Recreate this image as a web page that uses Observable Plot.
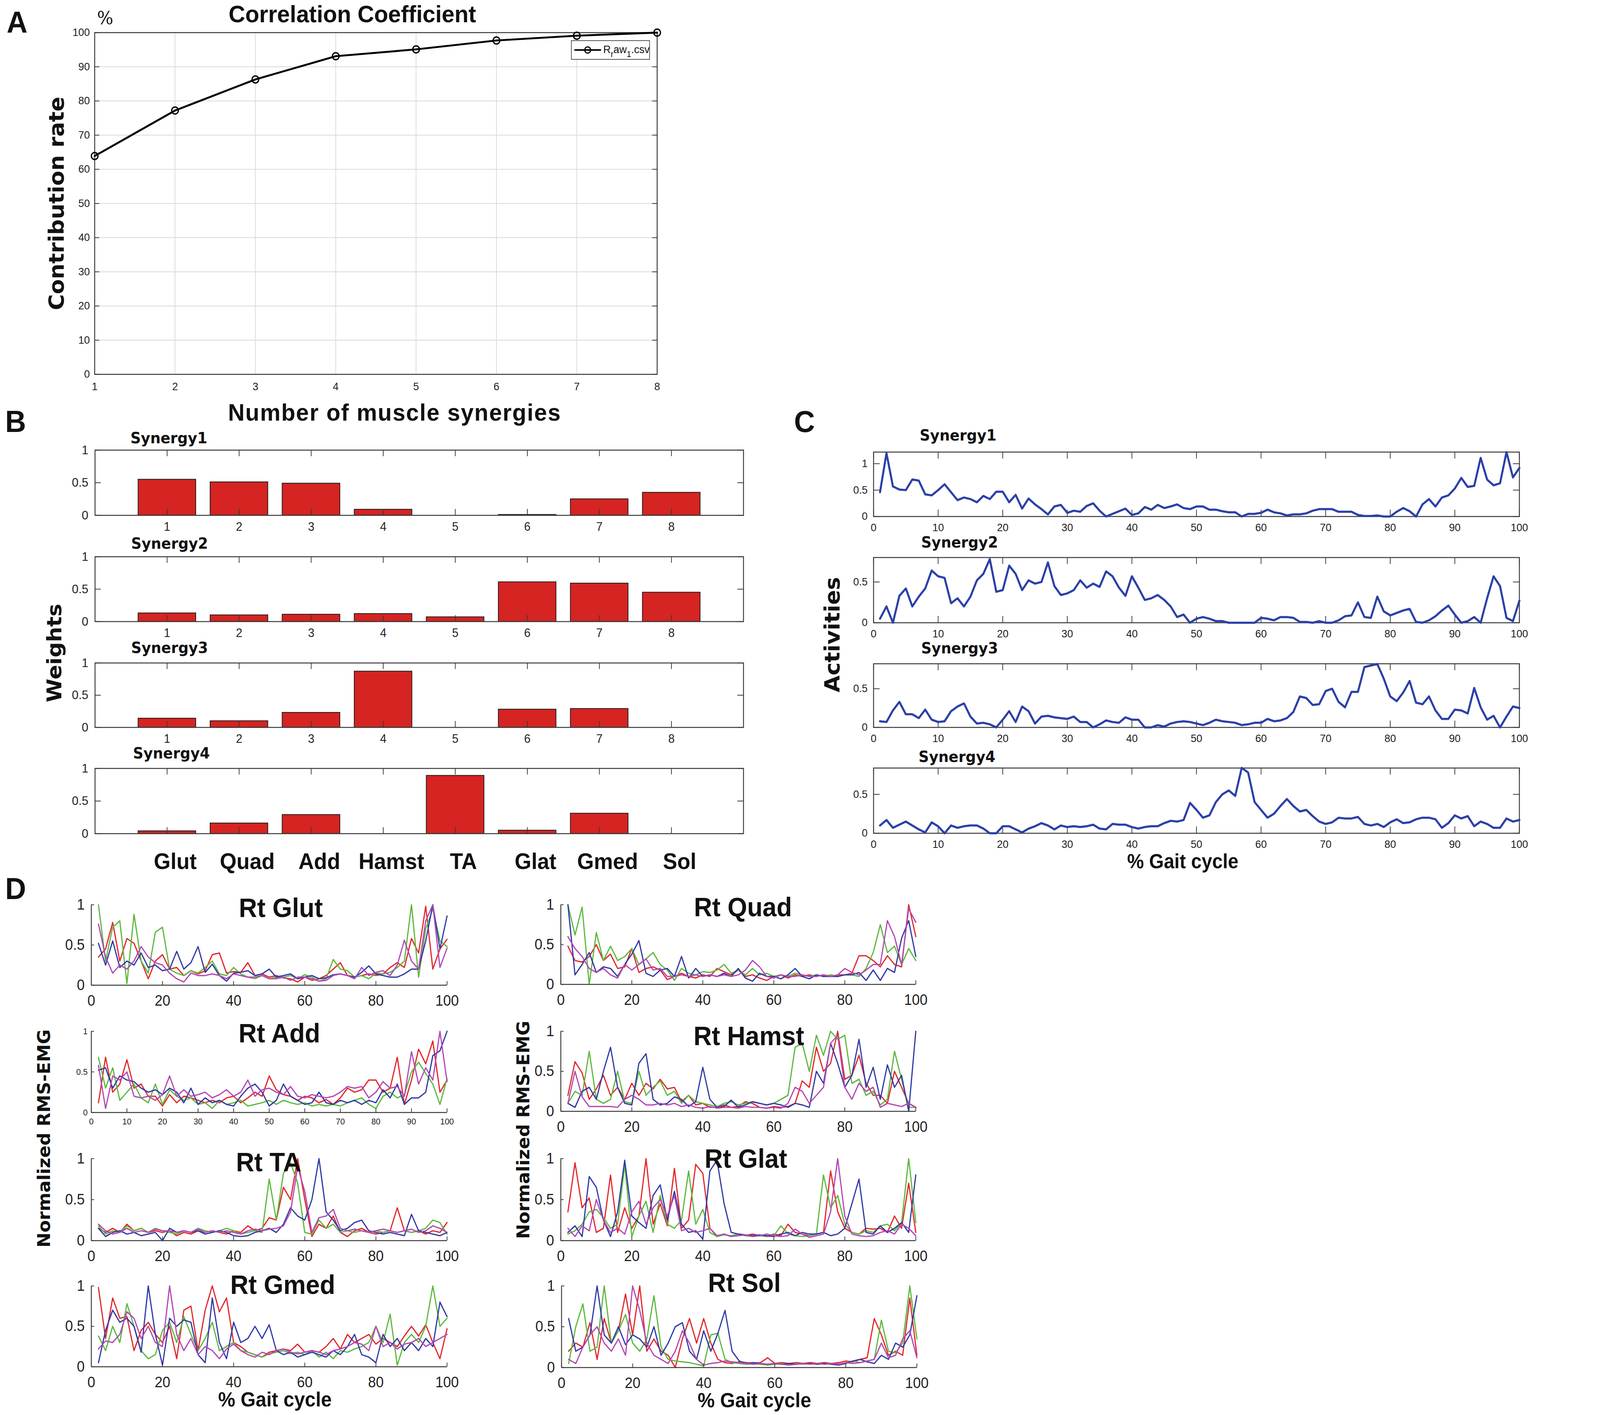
<!DOCTYPE html>
<html><head><meta charset="utf-8">
<script src="https://cdn.jsdelivr.net/npm/d3@7"></script>
<script src="https://cdn.jsdelivr.net/npm/@observablehq/plot@0.6"></script>
<style>
html,body{margin:0;padding:0;background:#fff;overflow:hidden;}
#root{position:relative;width:4318px;height:3623px;overflow:hidden;background:#fff;}
</style></head><body><div id="root"></div>
<script>
// ================= DATA =================
// Panel A
const synergyCounts = [1, 2, 3, 4, 5, 6, 7, 8];
const contributionRate = [63.9, 77.2, 86.3, 93.1, 95.1, 97.7, 99.1, 100];
const rateTicks = [0, 10, 20, 30, 40, 50, 60, 70, 80, 90, 100];

// Panel B
const muscleIndex = [1, 2, 3, 4, 5, 6, 7, 8];
const muscles = ["Glut", "Quad", "Add", "Hamst", "TA", "Glat", "Gmed", "Sol"];
const weightsSyn1 = [0.55, 0.51, 0.49, 0.09, 0, 0.01, 0.25, 0.35];
const weightsSyn2 = [0.13, 0.10, 0.11, 0.12, 0.07, 0.61, 0.59, 0.45];
const weightsSyn3 = [0.14, 0.10, 0.23, 0.87, 0, 0.28, 0.29, 0];
const weightsSyn4 = [0.04, 0.16, 0.29, 0, 0.89, 0.05, 0.31, 0];
const weightTicks = [0, 0.5, 1];

// Panel C (samples at 1..100 % gait cycle)
const gaitTicks = [0, 10, 20, 30, 40, 50, 60, 70, 80, 90, 100];
const activitySyn1 = [0.46,1.20,0.57,0.51,0.50,0.70,0.68,0.42,0.40,0.50,
 0.61,0.46,0.31,0.36,0.33,0.27,0.39,0.33,0.47,0.47,
 0.27,0.41,0.15,0.34,0.23,0.14,0.04,0.19,0.22,0.07,
 0.11,0.09,0.20,0.25,0.11,0.00,0.05,0.10,0.15,0.03,
 0.06,0.18,0.13,0.22,0.16,0.19,0.23,0.16,0.14,0.19,
 0.19,0.13,0.13,0.10,0.08,0.08,0.00,0.05,0.05,0.07,
 0.13,0.08,0.06,0.02,0.04,0.04,0.06,0.11,0.14,0.14,
 0.14,0.09,0.09,0.09,0.03,0.01,0.01,0.02,0.00,0.00,
 0.09,0.16,0.10,0.00,0.23,0.33,0.19,0.36,0.40,0.53,
 0.73,0.56,0.58,1.11,0.70,0.59,0.63,1.22,0.74,0.92];
const activitySyn2 = [0.05,0.20,0.00,0.33,0.42,0.20,0.32,0.42,0.64,0.57,
 0.55,0.24,0.30,0.20,0.32,0.52,0.60,0.78,0.38,0.40,
 0.70,0.60,0.40,0.52,0.48,0.50,0.74,0.45,0.34,0.36,
 0.40,0.52,0.43,0.48,0.44,0.63,0.57,0.43,0.33,0.57,
 0.43,0.28,0.30,0.34,0.28,0.20,0.07,0.10,0.00,0.05,
 0.07,0.05,0.02,0.02,0.00,0.00,0.00,0.00,0.00,0.06,
 0.05,0.03,0.07,0.07,0.06,0.01,0.01,0.00,0.02,0.00,
 0.00,0.03,0.08,0.09,0.25,0.07,0.06,0.32,0.14,0.09,
 0.12,0.15,0.17,0.01,0.00,0.03,0.08,0.15,0.21,0.10,
 0.00,0.02,0.07,0.00,0.30,0.57,0.45,0.06,0.02,0.27];
const activitySyn3 = [0.08,0.07,0.22,0.33,0.17,0.17,0.12,0.23,0.10,0.07,
 0.08,0.21,0.27,0.31,0.14,0.05,0.06,0.04,0.00,0.10,
 0.21,0.07,0.27,0.21,0.05,0.14,0.15,0.13,0.12,0.11,
 0.14,0.07,0.07,0.00,0.04,0.09,0.07,0.06,0.13,0.10,
 0.10,0.00,0.00,0.03,0.01,0.05,0.07,0.08,0.07,0.05,
 0.03,0.06,0.10,0.08,0.07,0.06,0.03,0.04,0.06,0.06,
 0.11,0.08,0.09,0.12,0.20,0.40,0.38,0.29,0.30,0.47,
 0.50,0.33,0.26,0.46,0.46,0.78,0.80,0.82,0.63,0.40,
 0.34,0.45,0.60,0.32,0.30,0.40,0.22,0.11,0.11,0.23,
 0.22,0.18,0.51,0.26,0.10,0.15,0.00,0.14,0.27,0.25];
const activitySyn4 = [0.10,0.17,0.07,0.11,0.15,0.10,0.05,0.01,0.14,0.09,
 0.00,0.10,0.07,0.09,0.10,0.10,0.06,0.00,0.00,0.09,
 0.09,0.05,0.01,0.06,0.09,0.13,0.10,0.05,0.10,0.08,
 0.09,0.08,0.09,0.11,0.06,0.05,0.12,0.11,0.11,0.08,
 0.06,0.08,0.09,0.09,0.13,0.16,0.15,0.17,0.39,0.30,
 0.20,0.23,0.40,0.50,0.55,0.48,0.84,0.78,0.40,0.30,
 0.20,0.25,0.35,0.44,0.35,0.28,0.30,0.22,0.15,0.12,
 0.14,0.20,0.19,0.19,0.21,0.12,0.10,0.12,0.08,0.14,
 0.18,0.13,0.14,0.18,0.20,0.20,0.18,0.07,0.13,0.23,
 0.19,0.22,0.09,0.15,0.12,0.07,0.07,0.19,0.15,0.17];

// Panel D (samples every 2 % gait cycle, 4 trials each)
const emgTicks = [0, 20, 40, 60, 80, 100];
const emgTicksFine = [0, 10, 20, 30, 40, 50, 60, 70, 80, 90, 100];
const trialColors = ["#e3262b", "#5cb83c", "#2f3aa6", "#b347b4"];
const glut1 = [.35,.45,.78,.30,.58,.52,.30,.08,.30,.38,.20,.22,.12,.18,.14,.18,.38,.40,.15,.17,.16,.28,.12,.14,.10,.12,.09,.08,.04,.10,.06,.08,.12,.20,.28,.12,.10,.12,.14,.12,.14,.22,.28,.22,.58,.40,.98,.20,.45,.57];
const glut2 = [1.0,.30,.72,.80,.02,.88,.30,.15,.66,.72,.20,.15,.12,.18,.15,.22,.30,.14,.12,.22,.14,.10,.08,.12,.08,.10,.10,.12,.08,.13,.10,.05,.08,.32,.20,.18,.10,.12,.08,.15,.14,.16,.22,.30,1.0,.10,.70,.95,.55,.48];
const glut3 = [.52,.25,.55,.22,.30,.25,.40,.22,.25,.18,.20,.42,.20,.28,.48,.16,.26,.12,.05,.15,.16,.18,.12,.14,.20,.10,.12,.14,.08,.10,.12,.08,.09,.13,.14,.12,.10,.16,.24,.14,.12,.10,.10,.14,.20,.20,.55,1.0,.45,.86];
const glut4 = [.76,.35,.15,.25,.20,.30,.48,.35,.28,.25,.15,.08,.04,.15,.12,.12,.14,.12,.08,.14,.12,.10,.10,.12,.08,.08,.10,.06,.10,.10,.08,.05,.06,.12,.14,.12,.08,.22,.12,.16,.18,.12,.25,.56,.30,.20,.80,1.0,.22,.46];
const quad1 = [.48,.30,.28,.35,.50,.30,.38,.20,.22,.45,.15,.20,.22,.18,.06,.10,.14,.10,.08,.12,.10,.20,.16,.12,.18,.10,.12,.08,.05,.10,.12,.08,.12,.10,.12,.10,.12,.10,.12,.12,.14,.36,.36,.30,.22,.36,.25,.22,1.0,.60];
const quad2 = [1.0,.62,.97,.00,.65,.30,.48,.30,.35,.45,.25,.32,.40,.25,.18,.05,.20,.14,.12,.16,.15,.18,.25,.14,.18,.12,.20,.12,.14,.10,.12,.10,.14,.12,.10,.12,.10,.12,.10,.12,.12,.10,.20,.40,.75,.40,.48,.25,.45,.30];
const quad3 = [1.0,.12,.25,.40,.15,.22,.20,.10,.25,.38,.55,.14,.10,.18,.20,.10,.35,.08,.20,.10,.12,.10,.14,.10,.20,.08,.04,.14,.10,.10,.07,.12,.20,.10,.07,.12,.10,.10,.10,.12,.12,.15,.05,.18,.05,.20,.15,.58,.80,.35];
const quad4 = [.60,.45,.35,.20,.15,.20,.12,.08,.25,.18,.25,.32,.18,.20,.10,.10,.12,.10,.12,.10,.12,.10,.12,.10,.12,.18,.30,.22,.10,.08,.12,.10,.10,.12,.10,.10,.12,.10,.12,.20,.15,.12,.18,.25,.25,.80,.60,.25,.95,.78];
const add1 = [.12,.68,.25,.35,.65,.30,.35,.20,.20,.08,.22,.12,.20,.18,.15,.12,.15,.12,.18,.20,.12,.18,.25,.20,.45,.28,.22,.20,.15,.20,.18,.12,.16,.10,.18,.30,.25,.28,.40,.40,.25,.30,.68,.10,.40,.78,.60,.88,.25,.40];
const add2 = [.68,.30,.55,.15,.25,.35,.18,.12,.35,.10,.28,.20,.15,.18,.10,.12,.05,.15,.10,.12,.15,.08,.10,.12,.15,.10,.15,.12,.10,.12,.08,.10,.08,.10,.08,.12,.15,.18,.10,.05,.20,.25,.18,.22,.50,.62,.48,.35,.10,.42];
const add3 = [.52,.55,.30,.45,.40,.38,.30,.25,.28,.22,.30,.25,.12,.30,.10,.18,.12,.15,.10,.08,.20,.30,.35,.25,.08,.15,.35,.20,.15,.10,.12,.25,.12,.10,.15,.12,.15,.10,.15,.12,.28,.18,.35,.10,.18,.18,.25,.70,.76,1.0];
const add4 = [.58,.05,.45,.40,.50,.20,.18,.20,.15,.22,.45,.20,.28,.20,.22,.25,.18,.22,.28,.20,.25,.40,.20,.28,.30,.25,.22,.32,.20,.18,.22,.20,.18,.20,.25,.32,.30,.32,.18,.25,.38,.30,.32,.20,.75,.35,.55,.40,1.0,.38];
const hamst1 = [.20,.62,.48,.15,.28,.45,.20,.30,.15,.35,.20,.35,.28,.40,.28,.30,.12,.20,.08,.10,.05,.05,.08,.05,.06,.12,.10,.05,.04,.06,.05,.06,.10,.38,.30,.80,.50,.60,1.0,.40,.45,.70,.35,.20,.20,.10,.50,.30,.10,.05];
const hamst2 = [.10,.25,.20,.75,.15,.10,.15,.50,.12,.10,.50,.20,.30,.38,.20,.25,.10,.20,.12,.10,.08,.06,.10,.12,.08,.10,.12,.10,.08,.10,.15,.20,.80,.85,.50,.95,.70,1.0,.90,.95,.35,.40,.20,.25,.08,.15,.75,.40,.05,.05];
const hamst3 = [.10,.05,.25,.30,.15,.50,.80,.30,.10,.08,.60,.72,.15,.08,.10,.18,.15,.06,.12,.55,.15,.05,.06,.14,.05,.08,.12,.10,.08,.10,.08,.05,.10,.08,.05,.50,.35,.85,.60,.30,.45,.90,.30,.55,.15,.58,.30,.45,.00,1.0];
const hamst4 = [.10,.50,.18,.06,.06,.06,.06,.05,.15,.20,.15,.08,.08,.10,.08,.10,.06,.08,.05,.04,.06,.04,.05,.05,.04,.06,.05,.05,.04,.05,.04,.10,.30,.25,.10,.20,.30,.85,.95,.30,.15,.35,.25,.30,.05,.10,.08,.06,.10,.05];
const ta1 = [.15,.10,.15,.10,.20,.12,.15,.10,.12,.10,.12,.06,.10,.08,.12,.10,.12,.10,.08,.12,.10,.18,.12,.15,.28,.25,.65,.50,1.0,.50,.05,.20,.15,.30,.10,.05,.12,.15,.10,.08,.10,.12,.40,.12,.10,.12,.08,.12,.10,.22];
const ta2 = [.18,.08,.12,.10,.18,.12,.15,.10,.15,.12,.10,.08,.12,.10,.15,.12,.10,.12,.15,.12,.08,.10,.12,.10,.75,.25,.82,.95,.70,.10,.08,.25,.15,.20,.10,.12,.10,.12,.10,.12,.10,.12,.10,.12,.10,.12,.15,.25,.22,.08];
const ta3 = [.15,.05,.10,.12,.08,.10,.06,.08,.10,.00,.15,.10,.12,.10,.12,.08,.10,.12,.10,.06,.05,.06,.10,.12,.15,.10,.20,.40,.30,.25,.50,1.0,.35,.25,.12,.15,.22,.25,.12,.10,.08,.10,.08,.06,.32,.12,.10,.08,.06,.10];
const ta4 = [.20,.12,.08,.10,.15,.10,.12,.10,.14,.12,.12,.10,.12,.10,.14,.10,.12,.10,.12,.10,.08,.12,.14,.12,.14,.15,.18,.35,.90,.60,.10,.28,.30,.38,.15,.12,.14,.12,.10,.12,.14,.12,.10,.12,.14,.10,.12,.18,.15,.10];
const glat1 = [.35,.95,.40,.52,.10,.15,.80,.10,.40,.15,.30,1.0,.20,.45,.18,.88,.15,.25,.93,.82,.15,.05,.08,.05,.08,.06,.08,.06,.05,.08,.06,.20,.10,.08,.06,.08,.10,.85,.35,.15,.10,.08,.15,.14,.15,.10,.30,.15,.70,.10];
const glat2 = [.08,.12,.20,.35,.38,.28,.15,.20,.92,.05,.30,.48,.10,.55,.20,.15,.25,.85,.20,.38,.10,.05,.07,.06,.08,.06,.05,.06,.05,.06,.18,.08,.06,.05,.06,.08,.80,.40,.55,.20,.10,.08,.12,.10,.18,.20,.12,.22,1.0,.22];
const glat3 = [.10,.18,.05,.78,.65,.25,.05,.35,.98,.30,.22,.15,.55,.68,.25,.60,.20,.10,.12,.02,.85,.98,.45,.10,.08,.07,.06,.07,.06,.05,.08,.10,.06,.10,.08,.08,.10,.06,.08,.15,.45,.75,.10,.08,.18,.10,.15,.22,.10,.80];
const glat4 = [.15,.05,.18,.12,.50,.25,.10,.15,.08,.35,.48,.20,.40,.50,.30,.55,.12,.15,.10,.12,.15,.06,.08,.05,.06,.07,.05,.06,.08,.06,.05,.06,.14,.08,.04,.06,.08,.35,1.0,.30,.08,.06,.05,.06,.10,.12,.08,.20,.15,.06];
const gmed1 = [.98,.35,.85,.60,.62,.20,.45,.55,.40,.30,.50,.10,.70,.75,.20,.70,1.0,.68,.85,.30,.25,.18,.15,.12,.18,.20,.22,.20,.28,.18,.20,.18,.25,.35,.22,.40,.30,.35,.40,.28,.35,.30,.25,.38,.50,.38,.52,.30,.10,.47];
const gmed2 = [.38,.20,.50,.30,.78,.50,.20,.10,.15,.45,.55,.30,.62,.40,.20,.35,.55,.20,.25,.30,.20,.18,.15,.12,.16,.18,.20,.16,.18,.15,.20,.12,.18,.10,.20,.18,.22,.25,.30,.50,.30,.65,.02,.30,.40,.30,.50,1.0,.50,.60];
const gmed3 = [.05,.45,.70,.55,.60,.50,.18,1.0,.40,.02,.60,.50,.58,.55,.15,.05,.85,.30,.10,.55,.30,.35,.50,.35,.52,.20,.15,.18,.12,.15,.18,.15,.12,.20,.15,.25,.40,.15,.12,.05,.40,.25,.35,.20,.30,.20,.35,.25,.80,.62];
const gmed4 = [.22,.32,.30,.40,.68,.60,.35,.50,.30,.25,1.0,.40,.20,.35,.15,.25,.20,.10,.22,.28,.20,.15,.12,.18,.15,.20,.22,.18,.16,.18,.20,.18,.15,.20,.22,.25,.30,.28,.20,.50,.25,.30,.22,.28,.30,.35,.25,.30,.35,.40];
const sol1 = [.20,.30,.25,.55,.10,.60,.30,.45,.90,.40,1.0,.20,.35,.20,.15,.00,.35,.60,.30,.60,.30,.10,.06,.05,.07,.06,.05,.06,.12,.05,.06,.05,.06,.05,.06,.05,.06,.05,.06,.08,.07,.10,.12,.60,.40,.15,.20,.15,.85,.15];
const sol2 = [.05,.50,.78,.20,.25,1.0,.30,.45,.65,.30,.20,.35,.88,.25,.10,.08,.07,.06,.04,.02,.40,.42,.10,.06,.05,.04,.05,.04,.03,.04,.05,.04,.05,.04,.05,.04,.05,.05,.04,.06,.08,.06,.08,.10,.58,.20,.18,.30,1.0,.35];
const sol3 = [.60,.20,.25,.40,1.0,.40,.30,.50,.28,.40,.35,.25,.50,.15,.30,.50,.55,.20,.10,.45,.20,.42,.70,.20,.08,.05,.06,.05,.04,.05,.04,.05,.04,.05,.05,.04,.05,.04,.03,.05,.08,.10,.07,.05,.15,.10,.30,.25,.40,.88];
const sol4 = [.10,.05,.25,.40,.50,.30,.20,.35,.15,1.0,.70,.30,.15,.10,.05,.20,.45,.30,.10,.03,.05,.06,.08,.07,.06,.05,.04,.05,.04,.05,.04,.03,.04,.05,.04,.05,.04,.05,.04,.06,.05,.06,.08,.10,.30,.12,.15,.35,.45,.12];

// ================= RENDERING =================
const root = document.getElementById("root");
// The window is narrower than the figure: stretch the figure to fill it exactly.
(function fit() {
  const cw = document.documentElement.clientWidth || window.innerWidth || 4318;
  const ch = document.documentElement.clientHeight || window.innerHeight || 3623;
  const sx = cw / 4318, sy = ch / 3623;
  if (Math.abs(sx - 1) > 0.002 || Math.abs(sy - 1) > 0.002) {
    root.style.transformOrigin = "0 0";
    root.style.transform = `scale(${sx}, ${sy})`;
  }
})();
const ARIAL = "'Liberation Sans', Arial, Helvetica, sans-serif";
const VERD = "'DejaVu Sans', Verdana, sans-serif";
const AX = "#3a3a3a";
const baseStyle = (fs) => ({fontFamily: ARIAL, fontSize: fs + "px", color: "#222", background: "none", overflow: "visible"});

function place(svg, fx, fy, m) {
  svg.style.position = "absolute";
  svg.style.left = (fx - m.left) + "px";
  svg.style.top = (fy - m.top) + "px";
  root.appendChild(svg);
}
function innerTicks(xt, yt, W, H, len, sw) {
  return [
    Plot.tickY(yt, {y: d => d, insetRight: W - len, stroke: AX, strokeWidth: sw}),
    Plot.tickY(yt, {y: d => d, insetLeft: W - len, stroke: AX, strokeWidth: sw}),
    Plot.tickX(xt, {x: d => d, insetTop: H - len, stroke: AX, strokeWidth: sw}),
    Plot.tickX(xt, {x: d => d, insetBottom: H - len, stroke: AX, strokeWidth: sw})
  ];
}

// ---------- Panel A ----------
{
  const fx0 = 255, fx1 = 1773, fy0 = 83, fy1 = 958;
  const W = fx1 - fx0, H = fy1 - fy0;
  const m = {top: 20, right: 20, bottom: 60, left: 80};
  const rows = synergyCounts.map((n, i) => ({n, rate: contributionRate[i]}));
  const svg = Plot.plot({
    width: W + m.left + m.right, height: H + m.top + m.bottom,
    marginTop: m.top, marginRight: m.right, marginBottom: m.bottom, marginLeft: m.left,
    x: {domain: [1, 8]}, y: {domain: [0, 100]},
    style: baseStyle(28),
    marks: [
      Plot.gridX(synergyCounts, {stroke: "#dadada", strokeOpacity: 1, strokeWidth: 2}),
      Plot.gridY(rateTicks, {stroke: "#dadada", strokeOpacity: 1, strokeWidth: 2}),
      Plot.tickY(rateTicks, {y: d => d, insetRight: W - 13, stroke: AX, strokeWidth: 2}),
      Plot.tickY(rateTicks, {y: d => d, insetLeft: W - 13, stroke: AX, strokeWidth: 2}),
      Plot.frame({stroke: AX, strokeWidth: 2.5}),
      Plot.axisX(synergyCounts, {tickSize: 0, tickPadding: 21, fontSize: 28, tickFormat: d => String(d), label: null}),
      Plot.axisY(rateTicks, {tickSize: 0, tickPadding: 13, fontSize: 28, tickFormat: d => String(d), label: null}),
      Plot.line(rows, {x: "n", y: "rate", stroke: "#000", strokeWidth: 5}),
      Plot.dot(rows, {x: "n", y: "rate", r: 9, stroke: "#000", strokeWidth: 3.5, fill: "none"})
    ]
  });
  place(svg, fx0, fy0, m);
}

// ---------- Panel B ----------
function weightPanel(weights, fy0, fy1, last) {
  const fx0 = 256, fx1 = 2006;
  const W = fx1 - fx0, H = fy1 - fy0;
  const m = {top: 20, right: 20, bottom: last ? 110 : 70, left: 90};
  const rows = muscleIndex.map((k, i) => ({k, w: weights[i]})).filter(d => d.w > 0);
  const svg = Plot.plot({
    width: W + m.left + m.right, height: H + m.top + m.bottom,
    marginTop: m.top, marginRight: m.right, marginBottom: m.bottom, marginLeft: m.left,
    x: {domain: [0, 9]}, y: {domain: [0, 1]},
    style: baseStyle(32),
    marks: [
      Plot.rectY(rows, {x1: d => d.k - 0.4, x2: d => d.k + 0.4, y: "w", fill: "#d52421", stroke: "#1c1c1c", strokeWidth: 2}),
      ...innerTicks(muscleIndex, weightTicks, W, H, 16, 2),
      Plot.frame({stroke: AX, strokeWidth: 2.5}),
      last
        ? Plot.axisX(muscleIndex, {tickSize: 0, tickPadding: 49, fontSize: 58, fontWeight: "bold", fill: "#111", dx: 22, tickFormat: k => muscles[k - 1], label: null})
        : Plot.axisX(muscleIndex, {tickSize: 0, tickPadding: 17, fontSize: 31, tickFormat: d => String(d), label: null}),
      Plot.axisY(weightTicks, {tickSize: 0, tickPadding: 18, fontSize: 32, tickFormat: d => String(d), label: null})
    ]
  });
  place(svg, fx0, fy0, m);
}
weightPanel(weightsSyn1, 1152, 1319, false);
weightPanel(weightsSyn2, 1425, 1591, false);
weightPanel(weightsSyn3, 1697, 1862, false);
weightPanel(weightsSyn4, 1967, 2134, true);

// ---------- Panel C ----------
function activityPanel(values, fy0, fy1, ymax) {
  const fx0 = 2357, fx1 = 4100;
  const W = fx1 - fx0, H = fy1 - fy0;
  const m = {top: 20, right: 30, bottom: 60, left: 90};
  const rows = values.map((v, i) => ({p: i + 1, v}));
  const yt = weightTicks.filter(t => t <= ymax);
  const svg = Plot.plot({
    width: W + m.left + m.right, height: H + m.top + m.bottom,
    marginTop: m.top, marginRight: m.right, marginBottom: m.bottom, marginLeft: m.left,
    x: {domain: [0, 100]}, y: {domain: [0, ymax]},
    style: baseStyle(28),
    marks: [
      ...innerTicks(gaitTicks, yt, W, H, 17, 2),
      Plot.frame({stroke: AX, strokeWidth: 2.5}),
      Plot.line(rows, {x: "p", y: "v", stroke: "#2b40a8", strokeWidth: 5.5, strokeLinejoin: "round"}),
      Plot.axisX(gaitTicks, {tickSize: 0, tickPadding: 18, fontSize: 28, tickFormat: d => String(d), label: null}),
      Plot.axisY(yt, {tickSize: 0, tickPadding: 16, fontSize: 28, tickFormat: d => String(d), label: null})
    ]
  });
  place(svg, fx0, fy0, m);
}
activityPanel(activitySyn1, 1157, 1322, 1.22);
activityPanel(activitySyn2, 1427, 1594, 0.80);
activityPanel(activitySyn3, 1699, 1862, 0.823);
activityPanel(activitySyn4, 1966, 2133, 0.838);

// ---------- Panel D ----------
const emgPercent = glut1.map((_, i) => 2 * (i + 1));
function emgPanel(trials, fx0, fy0, fx1, fy1, small) {
  const W = fx1 - fx0, H = fy1 - fy0;
  const m = {top: 10, right: 40, bottom: 70, left: 90};
  const xt = small ? emgTicksFine : emgTicks;
  const fs = small ? 22 : 38;
  const svg = Plot.plot({
    width: W + m.left + m.right, height: H + m.top + m.bottom,
    marginTop: m.top, marginRight: m.right, marginBottom: m.bottom, marginLeft: m.left,
    x: {domain: [0, 100]}, y: {domain: [0, 1]},
    style: baseStyle(fs),
    marks: [
      ...trials.map((vals, k) => Plot.line(vals.map((v, i) => ({p: emgPercent[i], v})),
        {x: "p", y: "v", stroke: trialColors[k], strokeWidth: 3.2})),
      Plot.ruleX([0], {stroke: AX, strokeWidth: 2.5}),
      Plot.ruleY([0], {stroke: AX, strokeWidth: 2.5}),
      Plot.tickX(xt, {x: d => d, insetTop: H - 10, stroke: AX, strokeWidth: 2}),
      Plot.tickY(weightTicks, {y: d => d, insetRight: W - 8, stroke: AX, strokeWidth: 2}),
      Plot.axisX(xt, {tickSize: 0, tickPadding: small ? 15 : 26, fontSize: fs, tickFormat: d => String(d), label: null}),
      Plot.axisY(weightTicks, {tickSize: 0, tickPadding: small ? 10 : 18, fontSize: fs, tickFormat: d => String(d), label: null})
    ]
  });
  place(svg, fx0, fy0, m);
}
emgPanel([glut1, glut2, glut3, glut4], 246, 2316, 1206, 2522, false);
emgPanel([add1, add2, add3, add4], 246, 2640, 1206, 2848, true);
emgPanel([ta1, ta2, ta3, ta4], 246, 2966, 1206, 3176, false);
emgPanel([gmed1, gmed2, gmed3, gmed4], 246, 3292, 1206, 3499, false);
emgPanel([quad1, quad2, quad3, quad4], 1513, 2316, 2471, 2520, false);
emgPanel([hamst1, hamst2, hamst3, hamst4], 1513, 2640, 2471, 2845, false);
emgPanel([glat1, glat2, glat3, glat4], 1513, 2966, 2471, 3176, false);
emgPanel([sol1, sol2, sol3, sol4], 1515, 3292, 2474, 3501, false);

// ---------- Text overlay ----------
const ov = d3.select(root).append("svg")
  .attr("width", 4318).attr("height", 3623)
  .style("position", "absolute").style("left", "0px").style("top", "0px")
  .style("pointer-events", "none");
function txt(s, x, y, o = {}) {
  const t = ov.append("text")
    .attr("font-family", o.family || ARIAL)
    .attr("font-size", o.size || 40)
    .attr("font-weight", o.weight || "bold")
    .attr("fill", o.fill || "#111")
    .attr("text-anchor", o.anchor || "start")
    .text(s);
  if (o.ls) t.attr("letter-spacing", o.ls);
  if (o.rotate) {
    t.attr("transform", `translate(${x},${y}) rotate(${o.rotate})`).attr("dy", "0.36em");
  } else {
    t.attr("x", x).attr("y", y);
  }
  return t;
}
// panel letters
txt("A", 18, 84, {size: 78});
txt("B", 14, 1106, {size: 78});
txt("C", 2143, 1106, {size: 78});
txt("D", 14, 2302, {size: 78});
// Panel A texts
txt("Correlation Coefficient", 951, 57, {size: 62, anchor: "middle"});
txt("%", 262, 62, {size: 46, family: "'DejaVu Serif', 'Liberation Serif', serif", weight: "normal"});
txt("Contribution rate", 152, 521, {size: 56, family: VERD, anchor: "middle", rotate: -90});
txt("Number of muscle synergies", 1065, 1077, {size: 62, anchor: "middle", ls: 2});
// legend (Panel A)
ov.append("rect").attr("x", 1542).attr("y", 104).attr("width", 211).attr("height", 48)
  .attr("fill", "white").attr("stroke", "#555").attr("stroke-width", 2);
ov.append("line").attr("x1", 1550).attr("x2", 1622).attr("y1", 128).attr("y2", 128)
  .attr("stroke", "#000").attr("stroke-width", 4);
ov.append("circle").attr("cx", 1586).attr("cy", 128).attr("r", 8)
  .attr("fill", "none").attr("stroke", "#000").attr("stroke-width", 3);
{
  const lt = ov.append("text").attr("x", 1628).attr("y", 136)
    .attr("font-family", ARIAL).attr("font-size", 28).attr("fill", "#111");
  lt.append("tspan").text("R");
  lt.append("tspan").attr("font-size", 22).attr("dy", 10).text("r");
  lt.append("tspan").attr("dy", -10).text("aw");
  lt.append("tspan").attr("font-size", 22).attr("dy", 10).text("1");
  lt.append("tspan").attr("dy", -10).text(".csv");
}
// Panel B texts
txt("Weights", 146, 1672, {size: 55, family: VERD, anchor: "middle", rotate: -90});
txt("Synergy1", 352, 1135, {size: 39, family: VERD});
txt("Synergy2", 354, 1405, {size: 39, family: VERD});
txt("Synergy3", 354, 1672, {size: 39, family: VERD});
txt("Synergy4", 359, 1942, {size: 39, family: VERD});
// Panel C texts
txt("Activities", 2245, 1625, {size: 56, family: VERD, anchor: "middle", rotate: -90});
txt("Synergy1", 2482, 1128, {size: 39, family: VERD});
txt("Synergy2", 2486, 1402, {size: 39, family: VERD});
txt("Synergy3", 2486, 1673, {size: 39, family: VERD});
txt("Synergy4", 2479, 1951, {size: 39, family: VERD});
txt("% Gait cycle", 3192, 2223, {size: 51, anchor: "middle"});
// Panel D texts
txt("Rt Glut", 758, 2348, {size: 68, anchor: "middle"});
txt("Rt Add", 754, 2669, {size: 68, anchor: "middle"});
txt("Rt TA", 725, 2999, {size: 68, anchor: "middle"});
txt("Rt Gmed", 763, 3313, {size: 68, anchor: "middle"});
txt("Rt Quad", 2005, 2346, {size: 68, anchor: "middle"});
txt("Rt Hamst", 2021, 2676, {size: 68, anchor: "middle"});
txt("Rt Glat", 2013, 2990, {size: 68, anchor: "middle"});
txt("Rt Sol", 2009, 3308, {size: 68, anchor: "middle"});
txt("Normalized RMS-EMG", 118, 2915, {size: 46, family: VERD, anchor: "middle", rotate: -90});
txt("Normalized RMS-EMG", 1412, 2893, {size: 46, family: VERD, anchor: "middle", rotate: -90});
txt("% Gait cycle", 742, 3601, {size: 52, anchor: "middle"});
txt("% Gait cycle", 2036, 3603, {size: 52, anchor: "middle"});
</script></body></html>
